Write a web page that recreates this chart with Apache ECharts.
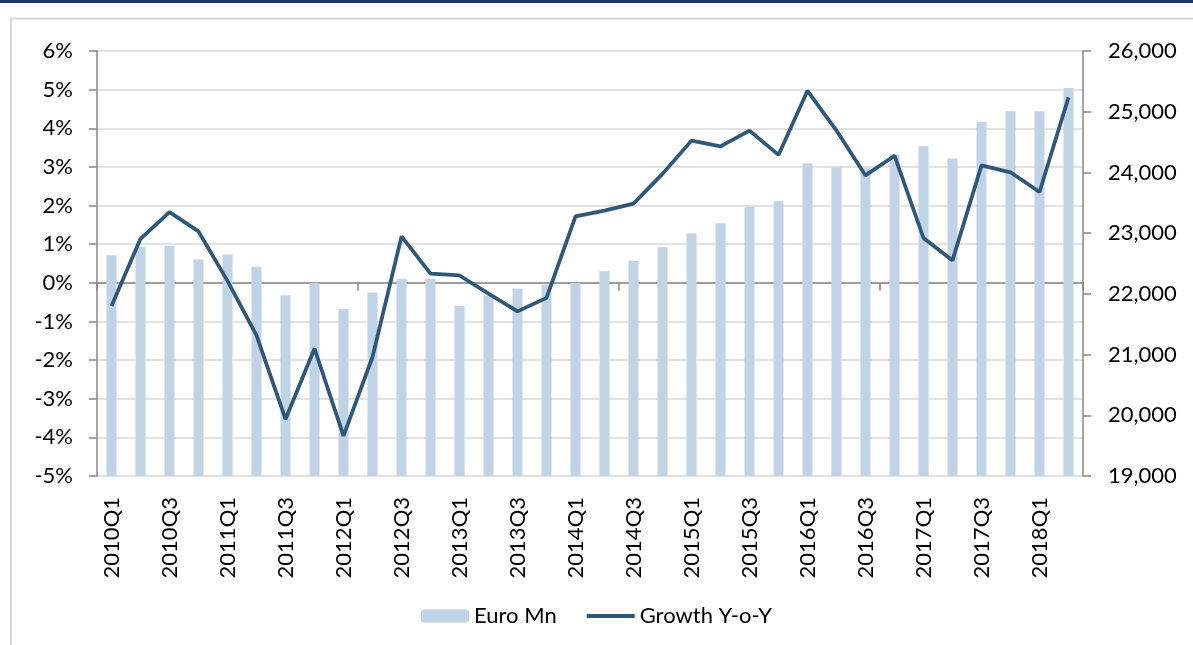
<!DOCTYPE html>
<html>
<head>
<meta charset="utf-8">
<script src="https://cdn.jsdelivr.net/npm/echarts@6/dist/echarts.min.js"></script>
<style>
  html, body { margin: 0; padding: 0; background: #fff; }
  #chart { width: 1193px; height: 645px; }
</style>
</head>
<body>
<div id="chart"></div>
<script>
// quarters 2010Q1 .. 2018Q2
var quarters = [
  '2010Q1','2010Q2','2010Q3','2010Q4','2011Q1','2011Q2','2011Q3','2011Q4',
  '2012Q1','2012Q2','2012Q3','2012Q4','2013Q1','2013Q2','2013Q3','2013Q4',
  '2014Q1','2014Q2','2014Q3','2014Q4','2015Q1','2015Q2','2015Q3','2015Q4',
  '2016Q1','2016Q2','2016Q3','2016Q4','2017Q1','2017Q2','2017Q3','2017Q4',
  '2018Q1','2018Q2'
];
// Euro Mn (right axis)
var euroMn = [
  22637, 22774, 22790, 22566, 22648, 22445, 21979, 22180,
  21749, 22023, 22248, 22243, 21803, 21975, 22089, 22155,
  22180, 22374, 22544, 22769, 22994, 23164, 23433, 23526,
  24146, 24086, 24070, 24300, 24431, 24228, 24832, 25007,
  25007, 25391
];
// Growth Y-o-Y in % (left axis)
var growthYoY = [
  -0.60, 1.14, 1.83, 1.33, 0.05, -1.36, -3.53, -1.70,
  -3.96, -1.92, 1.20, 0.24, 0.19, -0.28, -0.74, -0.39,
  1.72, 1.87, 2.05, 2.82, 3.68, 3.53, 3.94, 3.31,
  4.97, 3.94, 2.78, 3.29, 1.16, 0.58, 3.04, 2.86,
  2.35, 4.80
];
var leftTicks = { min: -5, max: 6, step: 1 };
var rightTicks = { min: 19000, max: 26000, step: 1000 };

var FONT = 'Lato';
var axisGrey = '#868686';
var lineBlue = '#2f5878';

function thousands(v) {
  return String(v).replace(/\B(?=(\d{3})+(?!\d))/g, ',');
}

var chart = echarts.init(document.getElementById('chart'));
chart.setOption({
  animation: false,
  backgroundColor: '#fff',
  textStyle: { fontFamily: FONT },
  graphic: [
    // navy strip on top
    { type: 'rect', left: 0, top: 0, shape: { width: 1193, height: 3 }, style: { fill: '#1f3864' }, silent: true },
    // chart area border (left + top)
    { type: 'line', shape: { x1: 11, y1: 18, x2: 11, y2: 645 }, style: { stroke: '#d9d9d9', lineWidth: 2 }, silent: true },
    { type: 'line', shape: { x1: 10, y1: 18.5, x2: 1193, y2: 18.5 }, style: { stroke: '#d9d9d9', lineWidth: 2 }, silent: true }
  ],
  grid: { left: 97, right: 110, top: 51, bottom: 169, containLabel: false },
  legend: {
    bottom: 13,
    left: 'center',
    itemWidth: 48,
    itemHeight: 13,
    itemGap: 28,
    textStyle: { fontFamily: FONT, fontSize: 22, color: '#000' },
    data: [
      { name: 'Euro Mn' },
      { name: 'Growth Y-o-Y', itemStyle: { opacity: 0 }, lineStyle: { width: 4 } }
    ]
  },
  xAxis: [
    {
      type: 'category',
      data: quarters,
      position: 'bottom',
      axisLine: { show: false, onZero: false },
      axisTick: { show: false },
      axisLabel: {
        interval: 1,
        rotate: 90,
        margin: 21,
        fontFamily: FONT,
        fontSize: 22,
        color: '#000'
      },
      splitLine: { show: false }
    },
    {
      type: 'category',
      data: quarters,
      position: 'bottom',
      axisLine: { show: true, onZero: true, onZeroAxisIndex: 0, lineStyle: { color: axisGrey, width: 1.5 } },
      axisTick: { show: true, interval: 8, length: 8, lineStyle: { color: axisGrey, width: 1.5 } },
      axisLabel: { show: false },
      splitLine: { show: false }
    }
  ],
  yAxis: [
    {
      type: 'value',
      min: leftTicks.min,
      max: leftTicks.max,
      interval: leftTicks.step,
      axisLine: { show: true, lineStyle: { color: axisGrey, width: 1.5 } },
      axisTick: { show: true, length: 8, lineStyle: { color: axisGrey, width: 1.5 } },
      axisLabel: {
        formatter: '{value}%',
        margin: 24,
        fontFamily: FONT,
        fontSize: 22,
        color: '#000'
      },
      splitLine: { show: true, lineStyle: { color: '#d9d9d9', width: 1.5 } }
    },
    {
      type: 'value',
      position: 'right',
      min: rightTicks.min,
      max: rightTicks.max,
      interval: rightTicks.step,
      axisLine: { show: true, lineStyle: { color: axisGrey, width: 1.5 } },
      axisTick: { show: true, length: 8, lineStyle: { color: axisGrey, width: 1.5 } },
      axisLabel: {
        formatter: function (v) { return thousands(v); },
        margin: 25,
        fontFamily: FONT,
        fontSize: 22,
        color: '#000'
      },
      splitLine: { show: false }
    }
  ],
  series: [
    {
      name: 'Euro Mn',
      type: 'bar',
      xAxisIndex: 0,
      yAxisIndex: 1,
      data: euroMn,
      barWidth: 10,
      itemStyle: { color: '#c1d4e5' }
    },
    {
      name: 'Growth Y-o-Y',
      type: 'line',
      xAxisIndex: 0,
      yAxisIndex: 0,
      data: growthYoY,
      symbol: 'none',
      lineStyle: { color: lineBlue, width: 3.75 },
      itemStyle: { color: lineBlue }
    }
  ]
});
</script>
</body>
</html>
